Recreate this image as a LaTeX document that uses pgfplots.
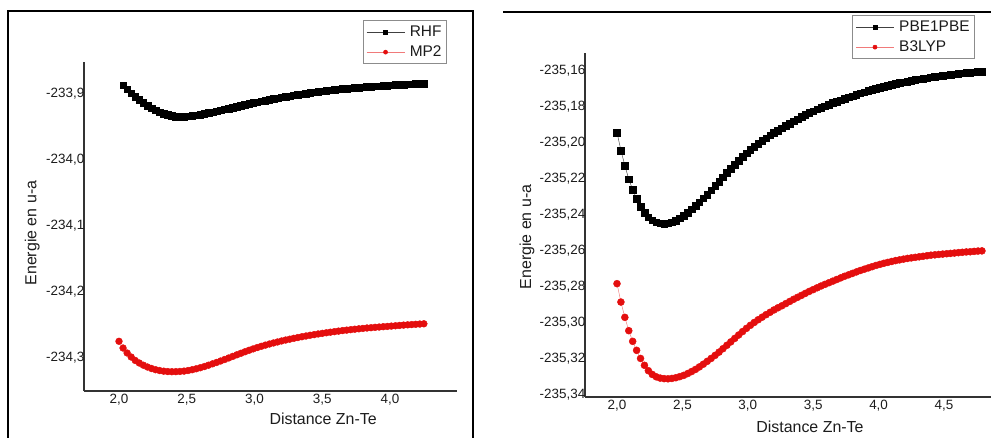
\documentclass[border=0pt]{standalone}
\usepackage{pgfplots}
\pgfplotsset{compat=1.18}
\usepackage{pgfplotstable}
\usepackage{fontspec}
\setmainfont{Liberation Sans}

\definecolor{mred}{RGB}{228,14,14}
\definecolor{txt}{RGB}{28,28,28}

% Zn-Te potential energy curves (energies in hartree, distances in angstrom)
\pgfplotstableread{
r E
2.03 -233.8879
2.06 -233.8939
2.09 -233.8996
2.12 -233.9050
2.15 -233.9100
2.18 -233.9146
2.21 -233.9188
2.24 -233.9225
2.27 -233.9258
2.30 -233.9286
2.33 -233.9309
2.36 -233.9327
2.39 -233.9341
2.42 -233.9350
2.45 -233.9354
2.48 -233.9352
2.51 -233.9347
2.54 -233.9340
2.57 -233.9331
2.60 -233.9321
2.63 -233.9309
2.66 -233.9296
2.69 -233.9283
2.72 -233.9270
2.75 -233.9257
2.78 -233.9243
2.81 -233.9229
2.84 -233.9215
2.87 -233.9201
2.90 -233.9187
2.93 -233.9173
2.96 -233.9159
2.99 -233.9146
3.02 -233.9133
3.05 -233.9120
3.08 -233.9108
3.11 -233.9096
3.14 -233.9084
3.17 -233.9073
3.20 -233.9062
3.23 -233.9051
3.26 -233.9041
3.29 -233.9031
3.32 -233.9021
3.35 -233.9012
3.38 -233.9003
3.41 -233.8994
3.44 -233.8985
3.47 -233.8977
3.50 -233.8969
3.53 -233.8961
3.56 -233.8954
3.59 -233.8947
3.62 -233.8940
3.65 -233.8934
3.68 -233.8928
3.71 -233.8922
3.74 -233.8917
3.77 -233.8912
3.80 -233.8907
3.83 -233.8902
3.86 -233.8898
3.89 -233.8894
3.92 -233.8890
3.95 -233.8886
3.98 -233.8881
4.01 -233.8877
4.04 -233.8873
4.07 -233.8870
4.10 -233.8867
4.13 -233.8864
4.16 -233.8861
4.19 -233.8858
4.22 -233.8855
4.25 -233.8853
}\rhf

\pgfplotstableread{
r E
2.00 -234.2752
2.03 -234.2854
2.06 -234.2929
2.09 -234.2990
2.12 -234.3042
2.15 -234.3081
2.18 -234.3114
2.21 -234.3141
2.24 -234.3164
2.27 -234.3182
2.30 -234.3195
2.33 -234.3204
2.36 -234.3210
2.39 -234.3212
2.42 -234.3211
2.45 -234.3208
2.48 -234.3203
2.51 -234.3194
2.54 -234.3182
2.57 -234.3168
2.60 -234.3152
2.63 -234.3134
2.66 -234.3114
2.69 -234.3093
2.72 -234.3072
2.75 -234.3050
2.78 -234.3027
2.81 -234.3004
2.84 -234.2980
2.87 -234.2956
2.90 -234.2933
2.93 -234.2910
2.96 -234.2888
2.99 -234.2867
3.02 -234.2847
3.05 -234.2828
3.08 -234.2810
3.11 -234.2793
3.14 -234.2777
3.17 -234.2762
3.20 -234.2747
3.23 -234.2733
3.26 -234.2720
3.29 -234.2707
3.32 -234.2695
3.35 -234.2683
3.38 -234.2672
3.41 -234.2661
3.44 -234.2651
3.47 -234.2641
3.50 -234.2632
3.53 -234.2623
3.56 -234.2614
3.59 -234.2606
3.62 -234.2598
3.65 -234.2590
3.68 -234.2583
3.71 -234.2576
3.74 -234.2569
3.77 -234.2563
3.80 -234.2557
3.83 -234.2551
3.86 -234.2546
3.89 -234.2541
3.92 -234.2536
3.95 -234.2531
3.98 -234.2527
4.01 -234.2522
4.04 -234.2517
4.07 -234.2512
4.10 -234.2507
4.13 -234.2503
4.16 -234.2499
4.19 -234.2495
4.22 -234.2491
4.25 -234.2487
}\mptwo

\pgfplotstableread{
r E
2.00 -235.1943
2.03 -235.2043
2.06 -235.2126
2.09 -235.2202
2.12 -235.2261
2.15 -235.2311
2.18 -235.2354
2.21 -235.2387
2.24 -235.2413
2.27 -235.2430
2.30 -235.2441
2.33 -235.2447
2.36 -235.2449
2.39 -235.2447
2.42 -235.2441
2.45 -235.2432
2.48 -235.2420
2.51 -235.2404
2.54 -235.2387
2.57 -235.2369
2.60 -235.2350
2.63 -235.2330
2.66 -235.2309
2.69 -235.2287
2.72 -235.2264
2.75 -235.2240
2.78 -235.2216
2.81 -235.2192
2.84 -235.2168
2.87 -235.2145
2.90 -235.2122
2.93 -235.2100
2.96 -235.2079
2.99 -235.2059
3.02 -235.2040
3.05 -235.2022
3.08 -235.2005
3.11 -235.1989
3.14 -235.1974
3.17 -235.1959
3.20 -235.1945
3.23 -235.1932
3.26 -235.1919
3.29 -235.1906
3.32 -235.1893
3.35 -235.1881
3.38 -235.1869
3.41 -235.1857
3.44 -235.1846
3.47 -235.1835
3.50 -235.1825
3.53 -235.1815
3.56 -235.1806
3.59 -235.1797
3.62 -235.1788
3.65 -235.1779
3.68 -235.1771
3.71 -235.1763
3.74 -235.1755
3.77 -235.1748
3.80 -235.1741
3.83 -235.1733
3.86 -235.1726
3.89 -235.1719
3.92 -235.1712
3.95 -235.1706
3.98 -235.1700
4.01 -235.1694
4.04 -235.1688
4.07 -235.1683
4.10 -235.1678
4.13 -235.1673
4.16 -235.1668
4.19 -235.1664
4.22 -235.1660
4.25 -235.1656
4.28 -235.1652
4.31 -235.1648
4.34 -235.1644
4.37 -235.1641
4.40 -235.1637
4.43 -235.1634
4.46 -235.1631
4.49 -235.1628
4.52 -235.1625
4.55 -235.1622
4.58 -235.1620
4.61 -235.1617
4.64 -235.1615
4.67 -235.1613
4.70 -235.1611
4.73 -235.1609
4.76 -235.1607
4.79 -235.1605
}\pbe

\pgfplotstableread{
r E
2.00 -235.2782
2.03 -235.2884
2.06 -235.2969
2.09 -235.3043
2.12 -235.3102
2.15 -235.3152
2.18 -235.3197
2.21 -235.3235
2.24 -235.3265
2.27 -235.3286
2.30 -235.3299
2.33 -235.3306
2.36 -235.3309
2.39 -235.3310
2.42 -235.3308
2.45 -235.3304
2.48 -235.3298
2.51 -235.3291
2.54 -235.3281
2.57 -235.3270
2.60 -235.3258
2.63 -235.3244
2.66 -235.3229
2.69 -235.3213
2.72 -235.3197
2.75 -235.3180
2.78 -235.3162
2.81 -235.3143
2.84 -235.3124
2.87 -235.3105
2.90 -235.3086
2.93 -235.3067
2.96 -235.3048
2.99 -235.3030
3.02 -235.3013
3.05 -235.2997
3.08 -235.2982
3.11 -235.2968
3.14 -235.2954
3.17 -235.2941
3.20 -235.2928
3.23 -235.2916
3.26 -235.2905
3.29 -235.2893
3.32 -235.2881
3.35 -235.2869
3.38 -235.2858
3.41 -235.2847
3.44 -235.2836
3.47 -235.2825
3.50 -235.2815
3.53 -235.2805
3.56 -235.2795
3.59 -235.2786
3.62 -235.2777
3.65 -235.2768
3.68 -235.2759
3.71 -235.2750
3.74 -235.2741
3.77 -235.2733
3.80 -235.2725
3.83 -235.2717
3.86 -235.2709
3.89 -235.2702
3.92 -235.2695
3.95 -235.2688
3.98 -235.2681
4.01 -235.2675
4.04 -235.2669
4.07 -235.2664
4.10 -235.2659
4.13 -235.2654
4.16 -235.2650
4.19 -235.2646
4.22 -235.2642
4.25 -235.2639
4.28 -235.2636
4.31 -235.2633
4.34 -235.2630
4.37 -235.2627
4.40 -235.2624
4.43 -235.2622
4.46 -235.2620
4.49 -235.2618
4.52 -235.2616
4.55 -235.2614
4.58 -235.2612
4.61 -235.2610
4.64 -235.2608
4.67 -235.2606
4.70 -235.2605
4.73 -235.2603
4.76 -235.2601
4.79 -235.2600
}\bthree

\tikzset{lbl/.style={font=\fontsize{16}{18}\selectfont, text=txt, anchor=center}}

\pgfplotsset{
  panel/.style={
    scale only axis, anchor=south west,
    axis x line=bottom, axis y line=left,
    axis line style={-, line width=1.3bp, black!80},
    major tick length=0pt,
    tick label style={font=\fontsize{13.5}{15}\selectfont, text=txt},
    xticklabel style={anchor=north, inner sep=0pt, yshift=-3bp},
    yticklabel style={anchor=east, inner sep=0pt, xshift=0.5bp},
    legend style={draw=black!45, line width=0.8bp,
      font=\fontsize{15.5}{17}\selectfont, text=txt, anchor=north east,
      inner xsep=3bp, inner ysep=3.5bp, row sep=4bp,
      nodes={inner sep=2bp},
      /tikz/every even column/.append style={column sep=2bp}},
    legend cell align=left,
    legend image code/.code={%
      \draw[mark repeat=2,mark phase=2,##1]
        plot coordinates {(0bp,0bp) (19bp,0bp) (38bp,0bp)};
      \path (41bp,0bp);},
    legend image post style={mark size=2.1bp},
  },
  blackser/.style={black!75, line width=0.45bp, mark=square*,
    mark options={solid, fill=black, draw=black}},
  redser/.style={mred!55, line width=0.45bp, mark=*,
    mark options={solid, fill=mred, draw=mred}},
}

\begin{document}
\begin{tikzpicture}
\useasboundingbox (0bp,0bp) rectangle (991bp,438bp);
% outer frames of the two panels
\draw[line width=1.8bp, black] (8bp,-2bp) -- (8bp,427.3bp) -- (473.3bp,427.3bp) -- (473.3bp,-2bp);
\draw[line width=1.8bp, black] (503bp,426bp) -- (993bp,426bp);

% left panel: RHF and MP2
\begin{axis}[panel,
  at={(84bp,47bp)}, width=373bp, height=329bp,
  xmin=1.7417, xmax=4.4945, ymin=-234.3504, ymax=-233.8526,
  xtick={2,2.5,3,3.5,4}, xticklabels={{2,0},{2,5},{3,0},{3,5},{4,0}},
  ytick={-234.3,-234.2,-234.1,-234.0,-233.9},
  yticklabels={{-234,3},{-234,2},{-234,1},{-234,0},{-233,9}},
  every axis x label/.style={lbl, at={(axis description cs:0.641,-0.085)}},
  every axis y label/.style={lbl, at={(axis description cs:-0.139,0.48)}, rotate=90},
  xlabel={Distance Zn-Te}, ylabel={Energie en u-a},
  legend style={at={(axis description cs:0.973,1.1277)}},
]
\addplot[blackser, mark size=3.3bp] table[x=r, y=E] {\rhf};
\addlegendentry{RHF}
\addplot[redser, mark size=3.4bp] table[x=r, y=E] {\mptwo};
\addlegendentry{MP2}
\end{axis}

% right panel: PBE1PBE and B3LYP
\begin{axis}[panel,
  at={(585bp,41bp)}, width=406bp, height=344bp,
  xmin=1.7554, xmax=4.8593, ymin=-235.3411, ymax=-235.1502,
  xtick={2,2.5,3,3.5,4,4.5}, xticklabels={{2,0},{2,5},{3,0},{3,5},{4,0},{4,5}},
  ytick={-235.34,-235.32,-235.30,-235.28,-235.26,-235.24,-235.22,-235.20,-235.18,-235.16},
  yticklabels={{-235,34},{-235,32},{-235,30},{-235,28},{-235,26},{-235,24},{-235,22},{-235,20},{-235,18},{-235,16}},
  every axis x label/.style={lbl, at={(axis description cs:0.554,-0.087)}},
  every axis y label/.style={lbl, at={(axis description cs:-0.143,0.465)}, rotate=90},
  xlabel={Distance Zn-Te}, ylabel={Energie en u-a},
  legend style={at={(axis description cs:0.9606,1.1105)}},
]
\addplot[blackser, mark size=3.3bp] table[x=r, y=E] {\pbe};
\addlegendentry{PBE1PBE}
\addplot[redser, mark size=3.5bp] table[x=r, y=E] {\bthree};
\addlegendentry{B3LYP}
\end{axis}
\end{tikzpicture}
\end{document}
